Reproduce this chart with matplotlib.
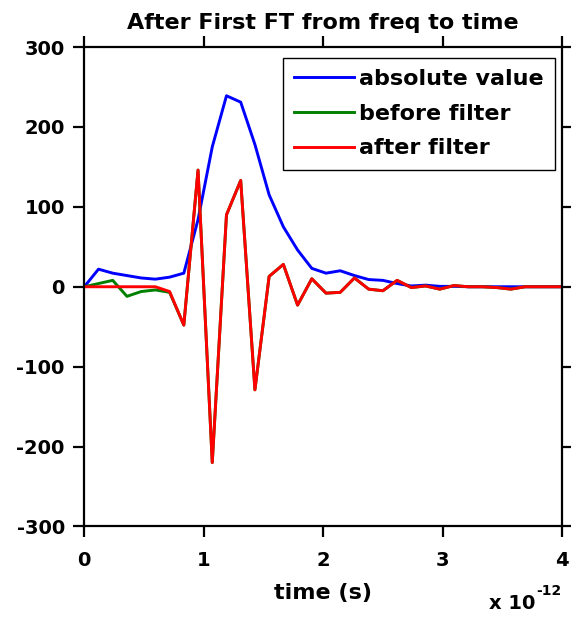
import matplotlib
matplotlib.use("Agg")
import matplotlib.pyplot as plt
from matplotlib.ticker import FixedLocator, FuncFormatter

plt.rcParams['font.family'] = ['DejaVu Sans']
plt.rcParams['font.weight'] = 'bold'
plt.rcParams['axes.unicode_minus'] = False

# sample times in picoseconds
time_ps = [0.000, 0.119, 0.238, 0.357, 0.476, 0.595, 0.714, 0.833, 0.952,
           1.071, 1.190, 1.309, 1.428, 1.547, 1.666, 1.785, 1.904, 2.023,
           2.142, 2.261, 2.380, 2.499, 2.618, 2.737, 2.856, 2.975, 3.094,
           3.213, 3.332, 3.451, 3.570, 3.689, 3.808, 3.927, 4.046]

absolute_value = [0, 22, 17, 14, 11, 9.5, 12, 17, 84, 175, 239, 231, 178, 115,
                  75, 46, 23, 17, 20, 14, 9, 8, 4, 1, 2, 0.5, 0.5, 0, 0, 0,
                  0, 0, 0, 0, 0]

before_filter = [0, 4, 8, -12, -6, -4, -7, -48, 146, -220, 90, 133, -129, 13,
                 28, -23, 10, -8, -7, 11, -3, -5, 8, -1, 1, -3, 1.5, 0, 0, -1,
                 -3, 0, 0, 0, 0]

after_filter = [0, 0, 0, 0, 0, 0, -6, -48, 146, -220, 90, 133, -129, 13,
                28, -23, 10, -8, -7, 11, -3, -5, 8, -1, 1, -3, 1.5, 0, 0, -1,
                -3, 0, 0, 0, 0]

series_labels = ['absolute value', 'before filter', 'after filter']
x_ticks = [0, 1, 2, 3, 4]
y_ticks = [-300, -200, -100, 0, 100, 200, 300]

time_s = [t * 1e-12 for t in time_ps]

fig = plt.figure(figsize=(5.71, 6.17), dpi=100)
ax = fig.add_axes([0.1476, 0.1467, 0.8371, 0.7771])

ax.plot(time_s, absolute_value, color=(0, 0, 1), lw=2.1, label=series_labels[0])
ax.plot(time_s, before_filter, color=(0, 0.5, 0), lw=2.1, label=series_labels[1])
ax.plot(time_s, after_filter, color=(1, 0, 0), lw=2.1, label=series_labels[2])

ax.set_xlim(0, 4e-12)
ax.set_ylim(-300, 300)
ax.xaxis.set_major_locator(FixedLocator([v * 1e-12 for v in x_ticks]))
ax.xaxis.set_major_formatter(FuncFormatter(lambda v, p: f"{v * 1e12:.0f}"))
ax.yaxis.set_major_locator(FixedLocator(y_ticks))

for s in ax.spines.values():
    s.set_linewidth(1.6)
ax.tick_params(axis='both', which='major', direction='out', length=8,
               width=1.6, labelsize=14, top=True, right=True)
ax.tick_params(axis='y', pad=6)
ax.tick_params(axis='x', pad=10)
for lbl in ax.get_xticklabels() + ax.get_yticklabels():
    lbl.set_fontweight('bold')

ax.set_title('After First FT from freq to time', fontsize=16,
             fontweight='bold', pad=13)
ax.set_xlabel('time (s)', fontsize=16, fontweight='bold', labelpad=9)

# exponent label for the time axis
fig.text(0.937, 0.0065, 'x 10', ha='right', va='bottom', fontsize=14,
         fontweight='bold')
fig.text(0.939, 0.030, '-12', ha='left', va='bottom', fontsize=10,
         fontweight='bold')

leg = ax.legend(loc='upper right', bbox_to_anchor=(0.9847, 0.977),
                borderaxespad=0, fontsize=16, handlelength=2.7,
                handletextpad=0.25, labelspacing=0.66, borderpad=0.5,
                fancybox=False, framealpha=1, edgecolor='black')
leg.get_frame().set_linewidth(1.0)
for txt in leg.get_texts():
    txt.set_fontweight('bold')

fig.savefig('out.png', dpi=100)
